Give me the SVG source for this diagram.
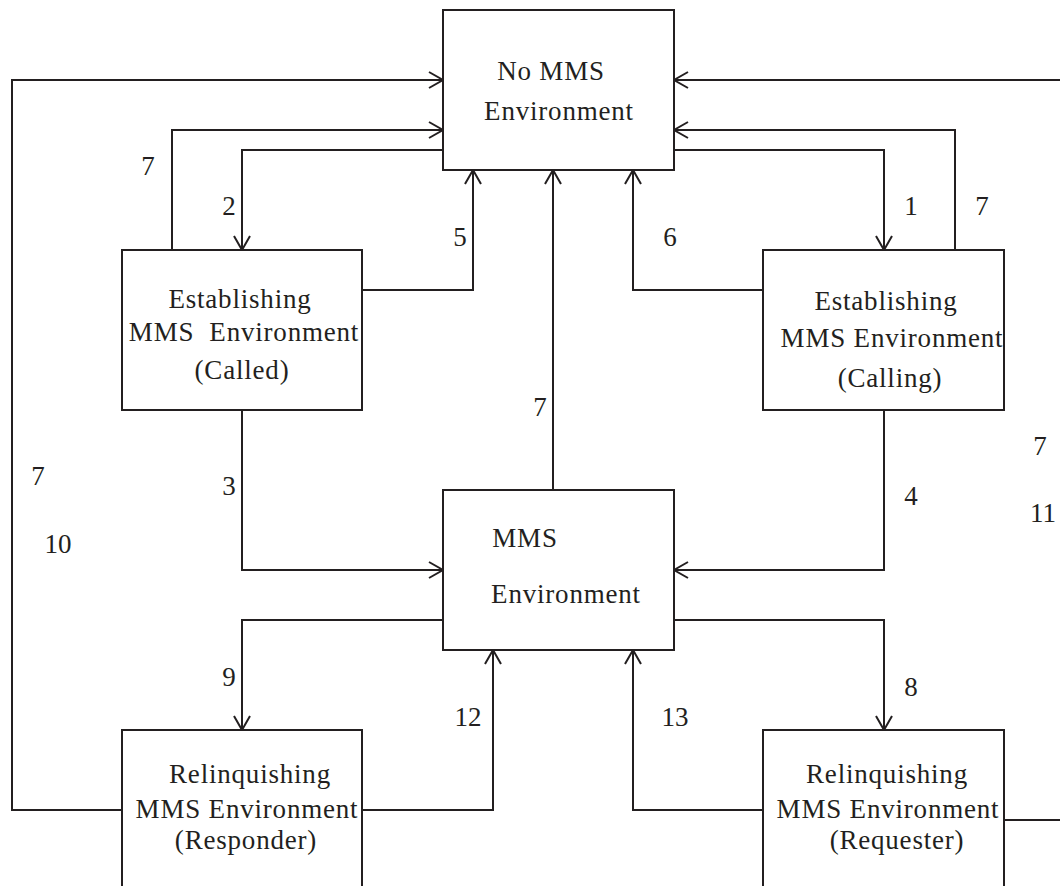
<svg xmlns="http://www.w3.org/2000/svg" width="1060" height="886" viewBox="0 0 1060 886">
  <style>
    .box { fill: #ffffff; stroke: #231f20; stroke-width: 2; }
    .wire { fill: none; stroke: #231f20; stroke-width: 2; }
  </style>
  <defs>
    <marker id="arrow" markerUnits="userSpaceOnUse" markerWidth="20" markerHeight="20" viewBox="-16 -10 18 20" refX="0" refY="0" orient="auto">
      <path d="M -14 -8 L 0 0 L -14 8" fill="none" stroke="#231f20" stroke-width="2"/>
    </marker>
  </defs>

  <rect width="1060" height="886" fill="#ffffff"/>

  <!-- state transitions -->
  <g id="connectors" class="wire">
    <path d="M 122 810 H 12 V 80 H 443" marker-end="url(#arrow)"/>
    <path d="M 172 250 V 130 H 443" marker-end="url(#arrow)"/>
    <path d="M 443 150 H 242 V 250" marker-end="url(#arrow)"/>
    <path d="M 362 290 H 473 V 170" marker-end="url(#arrow)"/>
    <path d="M 763 290 H 633 V 170" marker-end="url(#arrow)"/>
    <path d="M 674 150 H 884 V 250" marker-end="url(#arrow)"/>
    <path d="M 955 250 V 130 H 674" marker-end="url(#arrow)"/>
    <path d="M 1062 80 H 674" marker-end="url(#arrow)"/>
    <path d="M 1004 820 H 1062"/>
    <path d="M 553 490 V 170" marker-end="url(#arrow)"/>
    <path d="M 242 410 V 570 H 443" marker-end="url(#arrow)"/>
    <path d="M 884 410 V 570 H 674" marker-end="url(#arrow)"/>
    <path d="M 443 620 H 242 V 730" marker-end="url(#arrow)"/>
    <path d="M 362 810 H 493 V 650" marker-end="url(#arrow)"/>
    <path d="M 674 620 H 884 V 730" marker-end="url(#arrow)"/>
    <path d="M 763 810 H 633 V 650" marker-end="url(#arrow)"/>
  </g>

  <!-- transition numbers -->
  <g id="transition-labels" fill="#231f20" font-family="Liberation Serif" font-size="27" text-anchor="middle">
    <text x="148" y="175">7</text>
    <text x="229" y="215">2</text>
    <text x="460" y="246">5</text>
    <text x="670" y="246">6</text>
    <text x="911" y="215">1</text>
    <text x="982" y="215">7</text>
    <text x="38" y="485">7</text>
    <text x="58" y="553">10</text>
    <text x="229" y="495">3</text>
    <text x="540" y="416">7</text>
    <text x="911" y="505">4</text>
    <text x="1040" y="455">7</text>
    <text x="1043" y="522">11</text>
    <text x="229" y="686">9</text>
    <text x="468" y="726">12</text>
    <text x="675" y="726">13</text>
    <text x="911" y="696">8</text>
  </g>

  <g id="no-mms-environment" fill="#231f20" font-family="Liberation Serif" font-size="27" text-anchor="middle" letter-spacing="0.8">
    <rect class="box" x="443" y="10" width="231" height="160"/>
    <text x="551" y="80">No MMS</text>
    <text x="559" y="120">Environment</text>
  </g>

  <g id="establishing-called" fill="#231f20" font-family="Liberation Serif" font-size="27" text-anchor="middle" letter-spacing="0.8">
    <rect class="box" x="122" y="250" width="240" height="160"/>
    <text x="240" y="308">Establishing</text>
    <text x="244" y="341">MMS&#160; Environment</text>
    <text x="242" y="379">(Called)</text>
  </g>

  <g id="establishing-calling" fill="#231f20" font-family="Liberation Serif" font-size="27" text-anchor="middle" letter-spacing="0.8">
    <rect class="box" x="763" y="250" width="241" height="160"/>
    <text x="886" y="310">Establishing</text>
    <text x="892" y="347">MMS Environment</text>
    <text x="890" y="387">(Calling)</text>
  </g>

  <g id="mms-environment" fill="#231f20" font-family="Liberation Serif" font-size="27" text-anchor="middle" letter-spacing="0.8">
    <rect class="box" x="443" y="490" width="231" height="160"/>
    <text x="525" y="547">MMS</text>
    <text x="566" y="603">Environment</text>
  </g>

  <g id="relinquishing-responder" fill="#231f20" font-family="Liberation Serif" font-size="27" text-anchor="middle" letter-spacing="0.8">
    <rect class="box" x="122" y="730" width="240" height="170"/>
    <text x="250" y="783">Relinquishing</text>
    <text x="247" y="818">MMS Environment</text>
    <text x="246" y="849">(Responder)</text>
  </g>

  <g id="relinquishing-requester" fill="#231f20" font-family="Liberation Serif" font-size="27" text-anchor="middle" letter-spacing="0.8">
    <rect class="box" x="763" y="730" width="241" height="170"/>
    <text x="887" y="783">Relinquishing</text>
    <text x="888" y="818">MMS Environment</text>
    <text x="897" y="849">(Requester)</text>
  </g>
</svg>
